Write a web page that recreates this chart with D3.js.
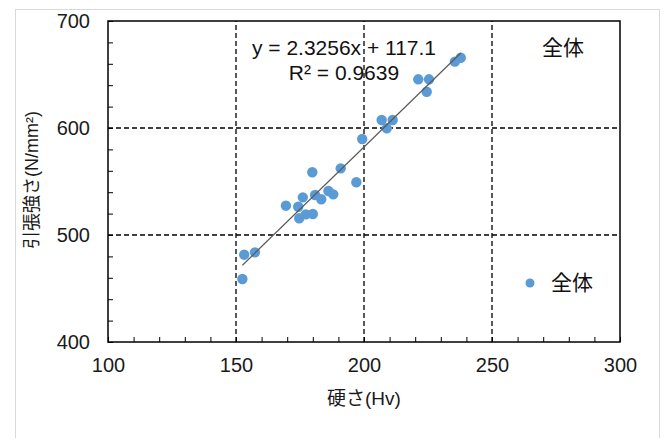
<!DOCTYPE html>
<html>
<head>
<meta charset="utf-8">
<script src="https://cdn.jsdelivr.net/npm/d3@7"></script>
<style>
	body { margin: 0; background: #fff; }
	text { font-family: 'Liberation Sans', 'Noto Sans CJK JP', sans-serif; }
</style>
</head>
<body>
<script>
	// -----------------------------DATA--------------------------------
	const hardness = [152.5, 153.2, 157.4, 169.5, 174.3, 174.7, 176.1, 177.3, 180.0, 179.8, 180.9, 183.3, 186.1, 188.0, 190.9, 197.0, 199.3, 206.9, 208.9, 211.2, 221.2, 224.5, 225.4, 235.5, 237.8];
	const strength = [458.9, 481.6, 483.8, 527.4, 526.4, 515.6, 535.2, 519.3, 519.6, 558.6, 537.4, 533.4, 541.1, 538.0, 562.3, 549.3, 589.7, 607.5, 599.7, 607.5, 645.5, 633.9, 645.5, 662.0, 665.7];
	const xTicks = [100, 150, 200, 250, 300];
	const yTicks = [400, 500, 600, 700];
	const slope = 2.3256;
	const intercept = 117.1;
	const r2 = 0.9639;
	const seriesName = '全体';

	const points = hardness.map((h, i) => ({ x: h, y: strength[i] }));

	// -----------------------------SVG--------------------------------
	const width = 670;
	const height = 438;
	const svg = d3.select('body').append('svg').attr('width', width).attr('height', height);

	// outer chart frame
	svg.append('rect')
		.attr('x', 15.5)
		.attr('y', 9.5)
		.attr('width', 644)
		.attr('height', 440)
		.attr('fill', '#fff')
		.attr('stroke', '#d9d9d9');

	const x = d3.scaleLinear().domain([100, 300]).range([108, 620]);
	const y = d3.scaleLinear().domain([400, 700]).range([342, 21]);

	// grid lines
	const grid = svg.append('g').attr('stroke', '#000').attr('stroke-width', 1.3).attr('stroke-dasharray', '5,3');
	grid.selectAll('.gx')
		.data(xTicks.slice(1, -1))
		.join('line')
		.attr('x1', (d) => x(d))
		.attr('x2', (d) => x(d))
		.attr('y1', y(400))
		.attr('y2', y(700));
	grid.selectAll('.gy')
		.data(yTicks.slice(1, -1))
		.join('line')
		.attr('x1', x(100))
		.attr('x2', x(300))
		.attr('y1', (d) => y(d))
		.attr('y2', (d) => y(d));

	// axes with inside minor ticks
	const xAxis = svg.append('g')
		.attr('transform', `translate(0,${y(400)})`)
		.call(
			d3.axisBottom(x)
				.tickValues(d3.range(100, 301, 10))
				.tickSize(-5)
				.tickPadding(16)
				.tickFormat((d) => (xTicks.includes(d) ? d : ''))
		);
	const yAxis = svg.append('g')
		.attr('transform', `translate(${x(100)},0)`)
		.call(
			d3.axisLeft(y)
				.tickValues(d3.range(400, 701, 20))
				.tickSize(-5)
				.tickPadding(18)
				.tickFormat((d) => (yTicks.includes(d) ? d : ''))
		);
	[xAxis, yAxis].forEach((g) => {
		g.select('.domain').remove();
		g.selectAll('line').attr('stroke', '#000');
		g.selectAll('text').attr('font-size', 20).attr('fill', '#1a1a1a').attr('font-family', "'Liberation Sans', sans-serif");
	});

	// plot border
	svg.append('rect')
		.attr('x', x(100))
		.attr('y', y(700))
		.attr('width', x(300) - x(100))
		.attr('height', y(400) - y(700))
		.attr('fill', 'none')
		.attr('stroke', '#000')
		.attr('stroke-width', 1.5);

	// points
	svg.append('g')
		.selectAll('circle')
		.data(points)
		.join('circle')
		.attr('cx', (d) => x(d.x))
		.attr('cy', (d) => y(d.y))
		.attr('r', 5.2)
		.attr('fill', '#5b9bd5');

	// trend line
	const xMin = d3.min(hardness);
	const xMax = d3.max(hardness);
	svg.append('line')
		.attr('x1', x(xMin))
		.attr('y1', y(slope * xMin + intercept))
		.attr('x2', x(xMax))
		.attr('y2', y(slope * xMax + intercept))
		.attr('stroke', '#595959')
		.attr('stroke-width', 1.2);

	// equation label
	const eq = svg.append('text').attr('font-size', 21).attr('fill', '#111').attr('text-anchor', 'middle');
	eq.append('tspan').attr('x', 344).attr('y', 55).text(`y = ${slope}x + ${intercept}`);
	eq.append('tspan').attr('x', 344).attr('y', 80).text(`R² = ${r2}`);

	// label in top-right corner
	svg.append('text')
		.attr('x', 563)
		.attr('y', 55)
		.attr('text-anchor', 'middle')
		.attr('font-size', 21)
		.attr('fill', '#111')
		.text(seriesName);

	// legend
	svg.append('circle').attr('cx', 530).attr('cy', 283).attr('r', 4.5).attr('fill', '#5b9bd5');
	svg.append('text')
		.attr('x', 551)
		.attr('y', 283)
		.attr('dy', '0.35em')
		.attr('font-size', 21)
		.attr('fill', '#111')
		.text(seriesName);

	// axis titles
	svg.append('text')
		.attr('x', 364)
		.attr('y', 398)
		.attr('dy', '0.35em')
		.attr('text-anchor', 'middle')
		.attr('font-size', 19)
		.attr('fill', '#1a1a1a')
		.text('硬さ(Hv)');
	svg.append('text')
		.attr('transform', 'translate(32,180) rotate(-90)')
		.attr('dy', '0.35em')
		.attr('text-anchor', 'middle')
		.attr('font-size', 18)
		.attr('fill', '#1a1a1a')
		.text('引張強さ(N/mm²)');
</script>
</body>
</html>
